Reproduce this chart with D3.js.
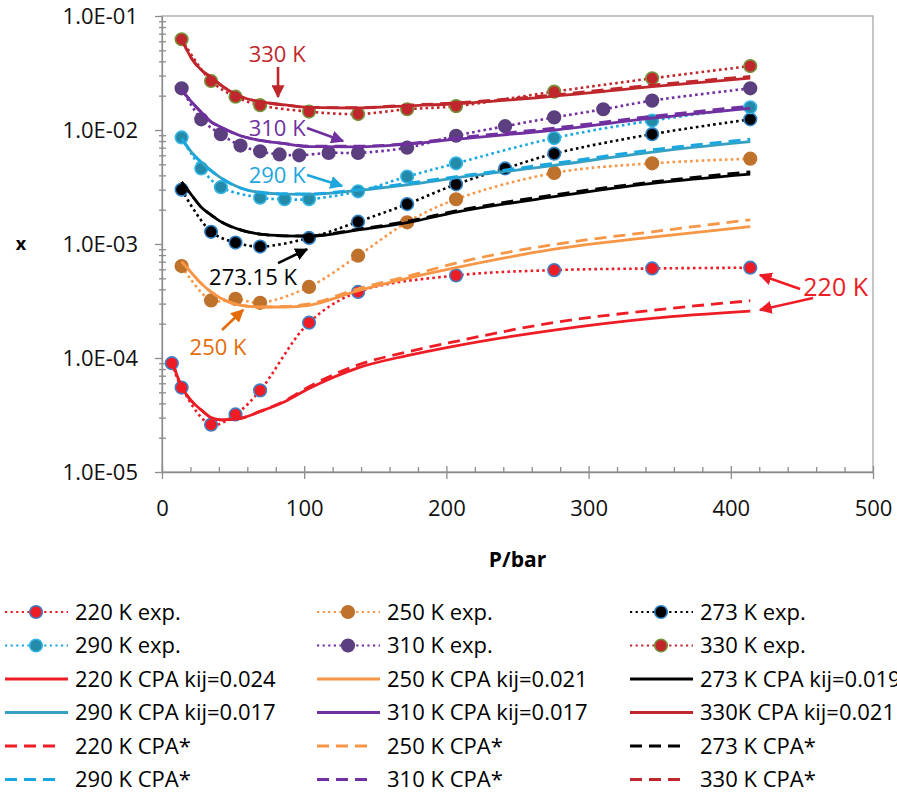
<!DOCTYPE html>
<html>
<head>
<meta charset="utf-8">
<script src="https://cdn.jsdelivr.net/npm/d3@7"></script>
<style>
  body { margin: 0; background: #fff; }
  svg { display: block; font-family: "Open Sans", "Liberation Sans", sans-serif; }
</style>
</head>
<body>
<svg id="canvas"></svg>
<script>
// experimental points (P in bar, x = mole fraction)
let pExp220 = [6.9, 13.8, 34.5, 51.7, 69, 103.4, 137.9, 206.8, 275.8, 344.7, 413.7]
let xExp220 = [9.0e-5, 5.5e-5, 2.6e-5, 3.2e-5, 5.2e-5, 2.04e-4, 3.8e-4, 5.3e-4, 5.9e-4, 6.1e-4, 6.2e-4]
let pExp250 = [13.8, 34.5, 51.7, 69, 103.4, 137.9, 172.4, 206.8, 275.8, 344.7, 413.7]
let xExp250 = [6.4e-4, 3.2e-4, 3.3e-4, 3.05e-4, 4.2e-4, 7.9e-4, 1.55e-3, 2.47e-3, 4.2e-3, 5.1e-3, 5.6e-3]
let pExp273 = [13.8, 34.5, 51.7, 69, 103.4, 137.9, 172.4, 206.8, 241.3, 275.8, 344.7, 413.7]
let xExp273 = [3.0e-3, 1.28e-3, 1.03e-3, 9.5e-4, 1.13e-3, 1.57e-3, 2.24e-3, 3.34e-3, 4.6e-3, 6.2e-3, 9.2e-3, 1.24e-2]
let pExp290 = [13.8, 27.6, 41.4, 69, 86.2, 103.4, 137.9, 172.4, 206.8, 275.8, 344.7, 413.7]
let xExp290 = [8.6e-3, 4.6e-3, 3.15e-3, 2.55e-3, 2.47e-3, 2.47e-3, 2.9e-3, 3.9e-3, 5.1e-3, 8.5e-3, 1.21e-2, 1.58e-2]
let pExp310 = [13.8, 27.6, 41.4, 55.2, 69, 82.7, 96.5, 117.2, 137.9, 172.4, 206.8, 241.3, 275.8, 310.3, 344.7, 413.7]
let xExp310 = [2.32e-2, 1.24e-2, 9.2e-3, 7.3e-3, 6.5e-3, 6.1e-3, 6.0e-3, 6.3e-3, 6.3e-3, 7.0e-3, 8.9e-3, 1.08e-2, 1.29e-2, 1.52e-2, 1.81e-2, 2.32e-2]
let pExp330 = [13.8, 34.5, 51.7, 69, 103.4, 137.9, 172.4, 206.8, 275.8, 344.7, 413.7]
let xExp330 = [6.25e-2, 2.69e-2, 1.96e-2, 1.65e-2, 1.45e-2, 1.38e-2, 1.52e-2, 1.62e-2, 2.17e-2, 2.84e-2, 3.64e-2]

// model curves
let pModel = [13.8, 20.7, 27.6, 34.5, 41.4, 55.2, 69, 86.2, 103.4, 137.9, 172.4, 206.8, 275.8, 344.7, 413.7]
let pModel220 = [6.9, 13.8, 20.7, 27.6, 34.5, 41.4, 55.2, 69, 86.2, 103.4, 137.9, 172.4, 206.8, 275.8, 344.7, 413.7]

let cpa220 = [9.5e-5, 5.6e-5, 4.2e-5, 3.5e-5, 3.0e-5, 2.87e-5, 2.96e-5, 3.4e-5, 4.14e-5, 5.4e-5, 8.2e-5, 1.05e-4, 1.28e-4, 1.76e-4, 2.23e-4, 2.58e-4]
let cpa250 = [7.0e-4, 5.6e-4, 4.5e-4, 3.8e-4, 3.34e-4, 2.9e-4, 2.8e-4, 2.8e-4, 2.9e-4, 3.9e-4, 5.0e-4, 6.2e-4, 9.0e-4, 1.15e-3, 1.42e-3]
let cpa273 = [3.5e-3, 2.7e-3, 2.1e-3, 1.8e-3, 1.57e-3, 1.33e-3, 1.22e-3, 1.18e-3, 1.17e-3, 1.33e-3, 1.54e-3, 1.9e-3, 2.6e-3, 3.4e-3, 4.1e-3]
let cpa290 = [8.4e-3, 6.4e-3, 5.2e-3, 4.4e-3, 3.8e-3, 3.1e-3, 2.83e-3, 2.74e-3, 2.73e-3, 2.95e-3, 3.3e-3, 3.8e-3, 4.9e-3, 6.4e-3, 7.9e-3]
let cpa310 = [2.25e-2, 1.77e-2, 1.43e-2, 1.18e-2, 1.06e-2, 8.9e-3, 8.1e-3, 7.6e-3, 7.15e-3, 7.12e-3, 7.5e-3, 8.3e-3, 1.0e-2, 1.27e-2, 1.55e-2]
let cpa330 = [6.25e-2, 4.26e-2, 3.36e-2, 2.9e-2, 2.48e-2, 1.97e-2, 1.77e-2, 1.66e-2, 1.58e-2, 1.56e-2, 1.63e-2, 1.7e-2, 1.98e-2, 2.4e-2, 2.85e-2]

let star220 = [9.5e-5, 5.6e-5, 4.2e-5, 3.5e-5, 3.0e-5, 2.87e-5, 2.96e-5, 3.4e-5, 4.2e-5, 5.6e-5, 8.7e-5, 1.13e-4, 1.4e-4, 2.05e-4, 2.62e-4, 3.18e-4]
let star250 = [7.0e-4, 5.6e-4, 4.5e-4, 3.8e-4, 3.34e-4, 2.9e-4, 2.8e-4, 2.83e-4, 2.98e-4, 4.05e-4, 5.2e-4, 6.8e-4, 9.9e-4, 1.28e-3, 1.63e-3]
let star273 = [3.5e-3, 2.7e-3, 2.1e-3, 1.8e-3, 1.57e-3, 1.33e-3, 1.22e-3, 1.18e-3, 1.18e-3, 1.35e-3, 1.58e-3, 1.95e-3, 2.7e-3, 3.5e-3, 4.3e-3]
let star290 = [8.4e-3, 6.4e-3, 5.2e-3, 4.4e-3, 3.8e-3, 3.1e-3, 2.83e-3, 2.75e-3, 2.75e-3, 3.0e-3, 3.4e-3, 3.9e-3, 5.1e-3, 6.7e-3, 8.3e-3]
let star310 = [2.25e-2, 1.77e-2, 1.43e-2, 1.18e-2, 1.06e-2, 8.9e-3, 8.1e-3, 7.6e-3, 7.2e-3, 7.2e-3, 7.6e-3, 8.5e-3, 1.04e-2, 1.32e-2, 1.62e-2]
let star330 = [6.25e-2, 4.26e-2, 3.36e-2, 2.9e-2, 2.48e-2, 1.97e-2, 1.77e-2, 1.66e-2, 1.58e-2, 1.57e-2, 1.65e-2, 1.73e-2, 2.03e-2, 2.48e-2, 2.95e-2]

let xTicks = [0, 100, 200, 300, 400, 500]
let yTicks = [1e-5, 1e-4, 1e-3, 1e-2, 1e-1]

let w = 897
let h = 792
let padLeft = 162, padRight = 873, padTop = 16, padBottom = 472

let canvas = d3.select('#canvas').attr('width', w).attr('height', h)

let xScale = d3.scaleLinear().domain([0, 500]).range([padLeft, padRight])
let yScale = d3.scaleLog().domain([1e-5, 1e-1]).range([padBottom, padTop])

let zip = (ps, xs) => ps.map((p, i) => ({p: p, x: xs[i]}))

let expSeries = [
  {name: '220 K exp.', data: zip(pExp220, xExp220), line: '#ee1c25', fill: '#ee1c25', edge: '#3f7fc2'},
  {name: '250 K exp.', data: zip(pExp250, xExp250), line: '#f79646', fill: '#bf722c', edge: '#bf722c'},
  {name: '273 K exp.', data: zip(pExp273, xExp273), line: '#000000', fill: '#000000', edge: '#2f82c6'},
  {name: '290 K exp.', data: zip(pExp290, xExp290), line: '#1aa7e0', fill: '#238aa9', edge: '#35b6e6'},
  {name: '310 K exp.', data: zip(pExp310, xExp310), line: '#7030a0', fill: '#5b3f7e', edge: '#5b3f7e'},
  {name: '330 K exp.', data: zip(pExp330, xExp330), line: '#c0272d', fill: '#c0272d', edge: '#77933c'}
]
let cpaSeries = [
  {name: '220 K CPA kij=0.024', data: zip(pModel220, cpa220), line: '#ee1c25'},
  {name: '250 K CPA kij=0.021', data: zip(pModel, cpa250), line: '#f79646'},
  {name: '273 K CPA kij=0.019', data: zip(pModel, cpa273), line: '#000000'},
  {name: '290 K CPA kij=0.017', data: zip(pModel, cpa290), line: '#35a0c2'},
  {name: '310 K CPA kij=0.017', data: zip(pModel, cpa310), line: '#7030a0'},
  {name: '330K CPA kij=0.021', data: zip(pModel, cpa330), line: '#c0272d'}
]
let starSeries = [
  {name: '220 K CPA*', data: zip(pModel220, star220), line: '#ee1c25'},
  {name: '250 K CPA*', data: zip(pModel, star250), line: '#f79646'},
  {name: '273 K CPA*', data: zip(pModel, star273), line: '#000000'},
  {name: '290 K CPA*', data: zip(pModel, star290), line: '#1aa7e0'},
  {name: '310 K CPA*', data: zip(pModel, star310), line: '#7030a0'},
  {name: '330 K CPA*', data: zip(pModel, star330), line: '#c0272d'}
]

let dotted = '2.6,3.2'
let dashed = '12,7'

let fmtE = (d) => {
  let e = Math.round(Math.log10(d))
  return '1.0E' + (e < 0 ? '-' : '+') + String(Math.abs(e)).padStart(2, '0')
}

// plot frame
canvas.append('rect')
  .attr('x', padLeft).attr('y', padTop)
  .attr('width', padRight - padLeft).attr('height', padBottom - padTop)
  .attr('fill', 'none').attr('stroke', '#a6a6a6').attr('stroke-width', 1.3)

// axes
let axisColor = '#8c8c8c'

let yMinor = []
for (let e = -5; e < -1; e++) {
  for (let m = 2; m <= 9; m++) yMinor.push(m * Math.pow(10, e))
}
let yMinorAxis = canvas.append('g')
  .attr('transform', 'translate(' + (padLeft + 4) + ',0)')
  .call(d3.axisLeft(yScale).tickValues(yMinor).tickSize(7).tickFormat(''))
yMinorAxis.select('.domain').remove()

let yAxis = canvas.append('g')
  .attr('transform', 'translate(' + padLeft + ',0)')
  .call(d3.axisLeft(yScale).tickValues(yTicks).tickSize(7).tickSizeOuter(0).tickPadding(17).tickFormat(fmtE))

let xMinor = d3.range(0, 501, 20).filter(d => d % 100 !== 0)
let xMinorAxis = canvas.append('g')
  .attr('transform', 'translate(0,' + (padBottom - 5) + ')')
  .call(d3.axisBottom(xScale).tickValues(xMinor).tickSize(5).tickFormat(''))
xMinorAxis.select('.domain').remove()

let xAxis = canvas.append('g')
  .attr('transform', 'translate(0,' + (padBottom - 6) + ')')
  .call(d3.axisBottom(xScale).tickValues(xTicks).tickSize(13).tickSizeOuter(0).tickPadding(21).tickFormat(d3.format('d')))
xAxis.select('.domain').attr('transform', 'translate(0,6)')

canvas.selectAll('.domain, .tick line').attr('stroke', axisColor).attr('stroke-width', 1.3)
canvas.selectAll('.tick text').attr('font-family', '"Open Sans", sans-serif').attr('font-size', 22).attr('fill', '#111')

// axis titles
canvas.append('text')
  .attr('x', 21).attr('y', 250)
  .attr('text-anchor', 'middle')
  .attr('font-size', 18).attr('font-weight', 'bold')
  .text('x')
canvas.append('text')
  .attr('x', (padLeft + padRight) / 2).attr('y', 567)
  .attr('text-anchor', 'middle')
  .attr('font-size', 21).attr('font-weight', 'bold')
  .text('P/bar')

// lines
let lineExp = d3.line().x(d => xScale(d.p)).y(d => yScale(d.x)).curve(d3.curveCatmullRom.alpha(0.5))
let lineModel = d3.line().x(d => xScale(d.p)).y(d => yScale(d.x)).curve(d3.curveMonotoneX)

let plot = canvas.append('g')

expSeries.forEach(s => {
  plot.append('path')
    .attr('d', lineExp(s.data))
    .attr('fill', 'none')
    .attr('stroke', s.line)
    .attr('stroke-width', 2.6)
    .attr('stroke-dasharray', dotted)
  plot.selectAll(null)
    .data(s.data)
    .enter()
    .append('circle')
    .attr('cx', d => xScale(d.p))
    .attr('cy', d => yScale(d.x))
    .attr('r', 6.3)
    .attr('fill', s.fill)
    .attr('stroke', s.edge)
    .attr('stroke-width', 1.6)
})

cpaSeries.forEach(s => {
  plot.append('path')
    .attr('d', lineModel(s.data))
    .attr('fill', 'none')
    .attr('stroke', s.line)
    .attr('stroke-width', 2.8)
})

starSeries.forEach(s => {
  plot.append('path')
    .attr('d', lineModel(s.data))
    .attr('fill', 'none')
    .attr('stroke', s.line)
    .attr('stroke-width', 2.8)
    .attr('stroke-dasharray', dashed)
})

// annotations (positions in data units)
let annotations = [
  {text: '330 K', color: '#c0272d', size: 22, anchor: 'middle', at: [81, 0.0394], arrows: [[[81.6, 0.0357], [81.6, 0.0195]]]},
  {text: '310 K', color: '#7030a0', size: 22, anchor: 'middle', at: [81, 0.0089], arrows: [[[102, 0.0104], [127.3, 0.0080]]]},
  {text: '290 K', color: '#1ea6df', size: 22, anchor: 'middle', at: [81, 0.00343], arrows: [[[102, 0.00403], [126.6, 0.00323]]]},
  {text: '273.15 K', color: '#000000', size: 22, anchor: 'middle', at: [64, 0.00044], arrows: [[[81.6, 0.00068], [102, 0.00090]]]},
  {text: '250 K', color: '#e46c0a', size: 22, anchor: 'middle', at: [39.4, 0.000106], arrows: [[[42.2, 0.000176], [57, 0.000264]]]},
  {text: '220 K', color: '#ee1c25', size: 25, anchor: 'start', at: [451, 0.00035], arrows: [[[448.7, 0.000403], [420.5, 0.000535]], [[457.8, 0.000336], [420.5, 0.000264]]]}
]

let defs = canvas.append('defs')
annotations.forEach((a, i) => {
  defs.append('marker')
    .attr('id', 'head' + i)
    .attr('viewBox', '0 0 10 10')
    .attr('refX', 9).attr('refY', 5)
    .attr('markerWidth', 5).attr('markerHeight', 5)
    .attr('markerUnits', 'strokeWidth')
    .attr('orient', 'auto')
    .append('path')
    .attr('d', 'M0,0 L10,5 L0,10 z')
    .attr('fill', a.color)

  canvas.append('text')
    .attr('x', xScale(a.at[0])).attr('y', yScale(a.at[1]))
    .attr('text-anchor', a.anchor)
    .attr('font-size', a.size)
    .attr('fill', a.color)
    .text(a.text)

  a.arrows.forEach(ar => {
    canvas.append('line')
      .attr('x1', xScale(ar[0][0])).attr('y1', yScale(ar[0][1]))
      .attr('x2', xScale(ar[1][0])).attr('y2', yScale(ar[1][1]))
      .attr('stroke', a.color)
      .attr('stroke-width', 2.6)
      .attr('marker-end', 'url(#head' + i + ')')
  })
})

// legend
let legendItems = []
expSeries.forEach(s => legendItems.push({s: s, kind: 'exp'}))
cpaSeries.forEach(s => legendItems.push({s: s, kind: 'cpa'}))
starSeries.forEach(s => legendItems.push({s: s, kind: 'star'}))

let colX = [5, 317, 630]
let rowY0 = 612
let rowStep = 33.5

let legend = canvas.selectAll('.legend-item')
  .data(legendItems)
  .enter()
  .append('g')
  .attr('class', 'legend-item')
  .attr('transform', (d, i) => 'translate(' + colX[i % 3] + ',' + (rowY0 + Math.floor(i / 3) * rowStep) + ')')

legend.each(function (d) {
  let g = d3.select(this)
  if (d.kind === 'exp') {
    g.append('line').attr('x1', 0).attr('x2', 63).attr('y1', 0).attr('y2', 0)
      .attr('stroke', d.s.line).attr('stroke-width', 2.2).attr('stroke-dasharray', '2.2,3.4')
    g.append('circle').attr('cx', 31).attr('cy', 0).attr('r', 6.3)
      .attr('fill', d.s.fill).attr('stroke', d.s.edge).attr('stroke-width', 1.6)
  } else if (d.kind === 'cpa') {
    g.append('line').attr('x1', 0).attr('x2', 63).attr('y1', 0).attr('y2', 0)
      .attr('stroke', d.s.line).attr('stroke-width', 2.8)
  } else {
    g.append('line').attr('x1', 0).attr('x2', 53).attr('y1', 0).attr('y2', 0)
      .attr('stroke', d.s.line).attr('stroke-width', 2.8).attr('stroke-dasharray', dashed)
  }
  g.append('text')
    .attr('x', 70).attr('y', 0).attr('dy', '0.36em')
    .attr('font-size', 22)
    .attr('fill', '#000')
    .text(d.s.name)
})
</script>
</body>
</html>
